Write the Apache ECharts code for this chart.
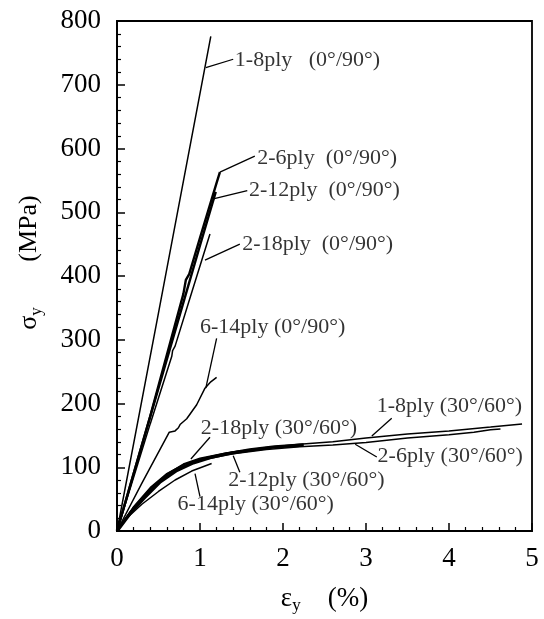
<!DOCTYPE html>
<html>
<head>
<meta charset="utf-8">
<script src="https://cdn.jsdelivr.net/npm/echarts@6.0.0/dist/echarts.min.js"></script>
<style>
    html, body { margin: 0; padding: 0; background: #fff; }
    #chart { width: 544px; height: 619px; }
</style>
</head>
<body>
<div id="chart"></div>
<script>
// strain (%) vs stress (MPa)
const ply1_8_0_90 = [[0, 0], [0.5, 342], [1.13, 776]]
const ply2_6_0_90 = [[0, 0], [0.4, 180], [0.8, 372], [0.83, 394], [0.87, 403], [1.0, 460], [1.2, 546], [1.24, 563]]
const ply2_12_0_90 = [[0, 0], [0.5, 224], [1.0, 448], [1.19, 532]]
const ply2_18_0_90 = [[0, 0], [0.4, 168], [0.66, 274], [0.67, 283], [0.7, 290], [0.9, 374], [1.12, 466]]
const ply6_14_0_90 = [[0, 0], [0.3, 75], [0.63, 155], [0.64, 157], [0.7, 157], [0.74, 162], [0.76, 167], [0.84, 176], [0.96, 198], [1.06, 224], [1.13, 234], [1.2, 241]]

const ply1_8_30_60 = [[0, 0], [0.2, 38], [0.4, 68], [0.6, 90], [0.8, 104], [1.0, 113], [1.4, 124], [1.8, 131], [2.2, 136], [2.6, 140], [3.0, 146], [3.5, 152], [4.0, 157], [4.5, 163], [4.88, 168]]
const ply2_6_30_60 = [[0, 0], [0.2, 37], [0.4, 66], [0.6, 88], [0.8, 102], [1.0, 111], [1.4, 121], [1.8, 128], [2.2, 132], [2.6, 135], [3.0, 139], [3.5, 146], [4.0, 151], [4.3, 155], [4.5, 159], [4.62, 160]]
const ply2_12_30_60 = [[0, 0], [0.16, 28], [0.32, 51], [0.52, 77], [0.72, 95], [0.92, 107], [1.12, 115], [1.32, 121], [1.6, 127], [1.9, 132], [2.25, 135]]
const ply2_18_30_60 = [[0, 0], [0.2, 36], [0.4, 66], [0.6, 89], [0.8, 105], [1.0, 114], [1.3, 122], [1.5, 126]]
const ply6_14_30_60 = [[0, 0], [0.1, 18], [0.3, 42], [0.5, 62], [0.7, 80], [0.9, 94], [1.14, 106]]

// annotation texts, where they sit (left end, middle) and their leader lines
const labelTexts = [
    '1-8ply   (0°/90°)', '2-6ply  (0°/90°)', '2-12ply  (0°/90°)', '2-18ply  (0°/90°)', '6-14ply (0°/90°)',
    '2-18ply (30°/60°)', '1-8ply (30°/60°)', '2-6ply (30°/60°)', '2-12ply (30°/60°)', '6-14ply (30°/60°)'
]
const labelAnchors = [
    [1.42, 738], [1.69, 585], [1.59, 535], [1.51, 450], [1.0, 319],
    [1.01, 162], [3.13, 195], [3.14, 118], [1.34, 79], [0.73, 42]
]
const leaders = [
    [[1.07, 727], [1.40, 740]],
    [[1.24, 563], [1.66, 588]],
    [[1.16, 521], [1.57, 534]],
    [[1.06, 425], [1.48, 450]],
    [[1.20, 302], [1.07, 224]],
    [[1.12, 147], [0.89, 113]],
    [[3.07, 149], [3.31, 177]],
    [[2.87, 136], [3.13, 116]],
    [[1.40, 118], [1.48, 92]],
    [[0.94, 90], [1.0, 54]]
]

const xTicks = [0, 1, 2, 3, 4, 5]
const yTicks = [0, 100, 200, 300, 400, 500, 600, 700, 800]

const font = 'Liberation Serif'

function curve(data, width) {
    return {
        type: 'line',
        data,
        symbol: 'none',
        smooth: false,
        lineStyle: { color: '#000', width },
        z: 3
    }
}

const series = [
    curve(ply1_8_0_90, 1.5),
    curve(ply2_6_0_90, 2.4),
    curve(ply2_12_0_90, 2.4),
    curve(ply2_18_0_90, 1.5),
    curve(ply6_14_0_90, 1.5),
    curve(ply1_8_30_60, 1.5),
    curve(ply2_6_30_60, 1.5),
    curve(ply2_12_30_60, 3.4),
    curve(ply2_18_30_60, 1.5),
    curve(ply6_14_30_60, 1.5)
]
leaders.forEach(seg => {
    series.push({
        type: 'line',
        data: seg,
        symbol: 'none',
        lineStyle: { color: '#000', width: 1.3 }
    })
})
series.push({
    type: 'scatter',
    symbolSize: 0,
    data: labelAnchors.map((p, i) => ({ value: p, name: labelTexts[i] })),
    label: {
        show: true,
        position: 'right',
        distance: 0,
        formatter: p => p.name,
        color: '#000',
        fontFamily: font,
        fontSize: 22
    }
})

const axisCommon = {
    type: 'value',
    nameLocation: 'middle',
    axisLine: { show: true, lineStyle: { color: '#000', width: 1.8 } },
    axisTick: { show: true, inside: true, length: 8, lineStyle: { color: '#000', width: 1.5 } },
    minorTick: { show: true, splitNumber: 5, length: 4, lineStyle: { color: '#000', width: 1.2 } },
    splitLine: { show: false },
    axisLabel: { color: '#000', fontFamily: font, fontSize: 27 }
}

const subStyle = { fontSize: 17, fontFamily: font, color: '#000', padding: [14, 0, 0, 0] }

const option = {
    animation: false,
    backgroundColor: '#fff',
    grid: {
        left: 117,
        right: 12,
        top: 21,
        bottom: 81,
        show: true,
        borderColor: '#000',
        borderWidth: 1.8
    },
    xAxis: Object.assign({}, axisCommon, {
        min: xTicks[0],
        max: xTicks[xTicks.length - 1],
        interval: 1,
        name: 'ε{sub|y}    (%)',
        nameGap: 52,
        nameTextStyle: {
            color: '#000', fontFamily: font, fontSize: 27,
            rich: { sub: subStyle }
        },
        axisLabel: Object.assign({}, axisCommon.axisLabel, { margin: 14 })
    }),
    yAxis: Object.assign({}, axisCommon, {
        min: yTicks[0],
        max: yTicks[yTicks.length - 1],
        interval: 100,
        name: 'σ{sub|y}       (MPa)',
        nameGap: 72,
        nameTextStyle: {
            color: '#000', fontFamily: font, fontSize: 26,
            padding: [0, 0, 0, 27],
            rich: { sub: subStyle }
        },
        axisLabel: Object.assign({}, axisCommon.axisLabel, { margin: 16 })
    }),
    series
}

const chart = echarts.init(document.getElementById('chart'), null, { renderer: 'canvas' })
chart.setOption(option)
</script>
</body>
</html>
